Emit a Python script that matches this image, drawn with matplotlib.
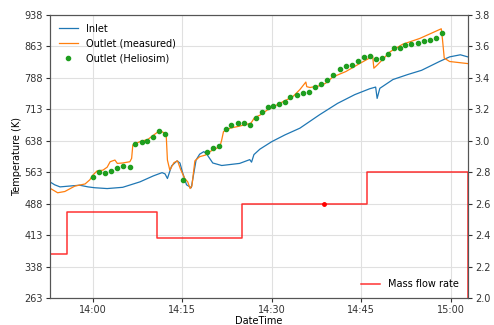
import matplotlib
matplotlib.use("Agg")
import matplotlib.pyplot as plt
import matplotlib.dates as mdates
import numpy as np
import pandas as pd

base = pd.Timestamp("2020-01-01 14:00")

# minutes after 14:00, temperature in K
inlet_t = [-7.2, -6.4, -5.5, -3.9, -2.2, -0.8, 0.3, 2.4, 5.0, 7.9, 10.1, 11.6, 12.1, 12.5,
           13.2, 14.1, 14.6, 15.0, 15.7, 16.5, 17.3, 17.9, 18.6, 19.1, 20.1, 21.6, 24.6,
           26.3, 26.6, 27.0, 28.0, 30.0, 32.2, 34.7, 38.0, 41.0, 43.9, 46.4, 47.4, 47.65,
           48.1, 50.3, 52.8, 55.1, 58.1, 59.8, 61.6, 62.85]
inlet_T = [540, 533, 528, 530, 532, 528, 526, 524, 527, 540, 554, 562, 559, 548,
           578, 590, 585, 564, 533, 526, 592, 606, 612, 606, 585, 579, 584,
           593, 587, 605, 618, 636, 652, 668, 700, 727, 748, 762, 766, 739,
           763, 784, 796, 806, 827, 838, 843, 838]

outlet_t = [-7.2, -5.9, -4.7, -3.0, -1.3, -0.5, 0.0, 0.7, 1.7, 2.4, 2.9, 3.7, 4.1, 5.0, 6.2,
            6.5, 6.7, 7.9, 9.2, 10.7, 11.2, 12.1, 12.3, 12.5, 12.9, 13.6, 14.2, 14.7, 15.4,
            15.9, 16.3, 16.6, 17.1, 17.9, 18.9, 19.6, 20.4, 21.3, 21.6, 21.9, 23.0, 24.3,
            25.5, 26.5, 27.1, 28.0, 29.2, 31.3, 33.5, 34.7, 35.7, 35.85, 36.4, 38.0, 39.0,
            40.2, 42.4, 44.7, 46.6, 46.9, 47.1, 47.7, 49.8, 51.9, 54.8, 58.4, 58.6, 58.9,
            59.8, 62.85]
outlet_T = [525, 514, 517, 530, 535, 545, 556, 566, 568, 575, 588, 592, 584, 585, 588,
            596, 628, 636, 641, 657, 662, 656, 650, 592, 568, 586, 590, 570, 548,
            540, 524, 530, 590, 600, 604, 612, 618, 624, 640, 660, 668, 672,
            676, 680, 693, 699, 711, 727, 743, 760, 778, 767, 765, 769, 775,
            790, 803, 822, 837, 840, 811, 819, 850, 868, 882, 905, 880, 835,
            827, 822]

helio_t = [0.05, 1.06, 2.0, 3.0, 4.1, 5.1, 6.2, 7.0, 8.2, 9.1, 10.1, 11.1, 12.1, 15.1,
           19.1, 20.2, 21.2, 22.3, 23.2, 24.3, 25.3, 26.3, 27.3, 28.3, 29.3, 30.2, 31.2,
           32.2, 33.1, 34.2, 35.2, 36.2, 37.2, 38.3, 39.3, 40.3, 41.4, 42.4, 43.4, 44.4,
           45.4, 46.4, 47.4, 48.5, 49.5, 50.4, 51.4, 52.4, 53.4, 54.5, 55.5, 56.5, 57.5,
           58.5]
helio_T = [552, 564, 562, 567, 572, 578, 575, 630, 634, 637, 646, 662, 654, 545,
           611, 621, 625, 666, 676, 681, 681, 676, 692, 707, 719, 721, 726,
           731, 743, 748, 751, 754, 767, 773, 784, 795, 809, 817, 819, 828,
           837, 839, 832, 835, 845, 859, 860, 866, 868, 871, 876, 878, 884,
           894]

# mass flow rate in kg/s (steps)
flow_t = [-7.2, -4.35, 10.7, 25.0, 45.9, 62.8, 62.85]
flow_m = [2.28, 2.55, 2.38, 2.6, 2.8, 0.0, 0.0]
flow_pt_t = [38.7]
flow_pt_m = [2.6]


def to_time(mins):
    return base + pd.to_timedelta(np.array(mins), unit="m")


plt.rcParams["font.size"] = 7

fig = plt.figure(figsize=(4.94, 3.25), dpi=100)
ax = fig.add_axes([0.101, 0.083, 0.846, 0.871])
ax2 = ax.twinx()

ax.plot(to_time(inlet_t), inlet_T, color="#1f77b4", lw=0.9, label="Inlet")
ax.plot(to_time(outlet_t), outlet_T, color="#ff7f0e", lw=0.9, label="Outlet (measured)")
ax.plot(to_time(helio_t), helio_T, "o", color="#1f9e1f", ms=3.0, label="Outlet (Heliosim)")

ax2.plot(to_time(flow_t), flow_m, color="red", alpha=0.8, lw=1.1, drawstyle="steps-post",
         label="Mass flow rate")
ax2.plot(to_time(flow_pt_t), flow_pt_m, "o", color="red", ms=2.5)

ax.set_xlim(to_time([-7.2])[0], to_time([62.85])[0])
ax.set_ylim(263, 938)
ax.set_yticks(np.arange(263, 939, 75))
ax2.set_ylim(2.0, 3.8)
ax2.set_yticks(np.arange(2.0, 3.81, 0.2))

ax.xaxis.set_major_locator(mdates.MinuteLocator(byminute=[0, 15, 30, 45]))
ax.xaxis.set_major_formatter(mdates.DateFormatter("%H:%M"))

ax.tick_params(length=3, pad=2, colors="#333333")
ax2.tick_params(length=3, pad=2, colors="#333333")

ax.grid(True, color="#e0e0e0", lw=0.8)
for s in list(ax.spines.values()) + list(ax2.spines.values()):
    s.set_color("#555555")

ax.set_xlabel("DateTime", labelpad=1)
ax.set_ylabel("Temperature (K)", labelpad=2)
ax2.set_ylabel(r"Mass flow rate, $\dot{m}$ (kg/s)", labelpad=6)

ax.legend(loc="upper left", fontsize=7, frameon=False, labelspacing=0.5)
ax2.legend(loc="lower right", fontsize=7, frameon=False)

fig.savefig("out.png", dpi=100)
